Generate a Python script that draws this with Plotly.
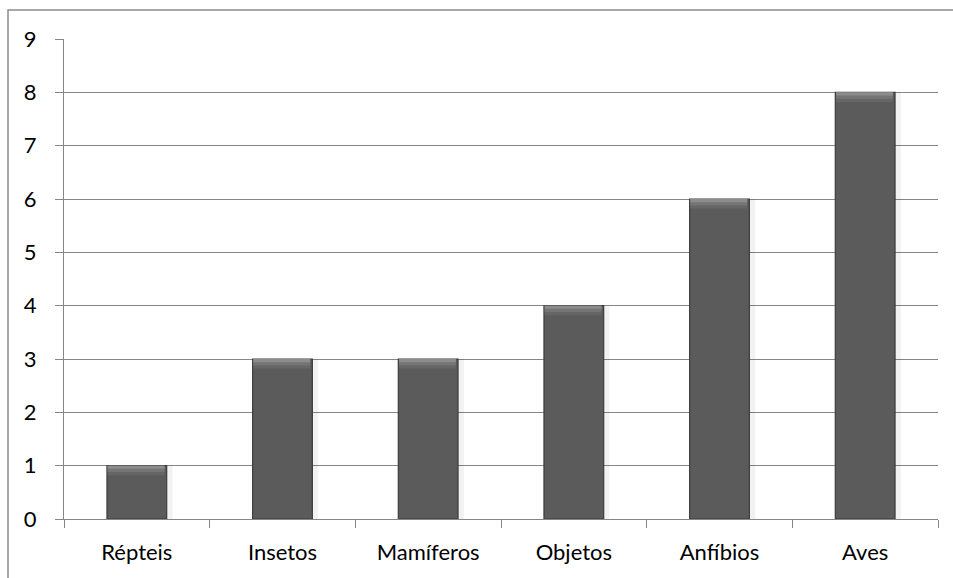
import plotly.graph_objects as go

categories = ["Répteis", "Insetos", "Mamíferos", "Objetos", "Anfíbios", "Aves"]
values = [1, 3, 3, 4, 6, 8]
y_ticks = list(range(0, 10))

W, H = 953, 578
L, R, T, B = 64, 15, 39, 59
pw, ph = W - L - R, H - T - B

BAR_W = 0.41
fig = go.Figure()

# faint drop shadow on the right of each bar
fig.add_trace(go.Bar(
    x=categories, y=values, width=BAR_W + 0.04, offset=-BAR_W / 2,
    marker=dict(color="rgba(0,0,0,0.05)", line=dict(width=0)),
    hoverinfo="skip", showlegend=False,
))
# bar bodies
fig.add_trace(go.Bar(
    x=categories, y=values, width=BAR_W, offset=-BAR_W / 2,
    marker=dict(color="#5b5b5b", line=dict(color="#3c3c3c", width=1.2)),
    showlegend=False,
))
# bevelled top edge: light bands fading down from each bar's top
for depth, shade in [(0.18, "#666666"), (0.12, "#757575"), (0.06, "#8c8c8c")]:
    fig.add_trace(go.Bar(
        x=categories, y=[depth] * len(values),
        base=[v - depth for v in values],
        width=BAR_W - 0.02, offset=-BAR_W / 2 + 0.005,
        marker=dict(color=shade, line=dict(width=0)),
        hoverinfo="skip", showlegend=False,
    ))

grid = "#868686"
font = dict(family="Lato, 'Open Sans', sans-serif", size=22, color="#000000")

fig.update_layout(
    width=W, height=H,
    margin=dict(l=L, r=R, t=T, b=B),
    paper_bgcolor="white", plot_bgcolor="white",
    barmode="overlay",
    font=font,
    xaxis=dict(
        showline=True, linecolor=grid, linewidth=1,
        ticks="outside", ticklen=8, tickcolor=grid,
        tickson="boundaries", showgrid=False,
        range=[-0.5, 5.5], fixedrange=True,
        ticklabelstandoff=14,
    ),
    yaxis=dict(
        range=[0, 9], tickvals=y_ticks, ticks="outside", ticklen=8,
        tickcolor=grid, showgrid=True, gridcolor=grid, gridwidth=1,
        showline=True, linecolor=grid, linewidth=1, zeroline=False,
        ticklabelstandoff=14,
    ),
    shapes=[dict(
        type="rect", xref="paper", yref="paper",
        x0=(8 - L) / pw, x1=(W + 5 - L) / pw,
        y0=-(H + 5 - T - ph) / ph, y1=(H - 10 - B) / ph,
        line=dict(color="#8c8c8c", width=1.5), layer="below",
    )],
)

fig.write_html("out.html")
